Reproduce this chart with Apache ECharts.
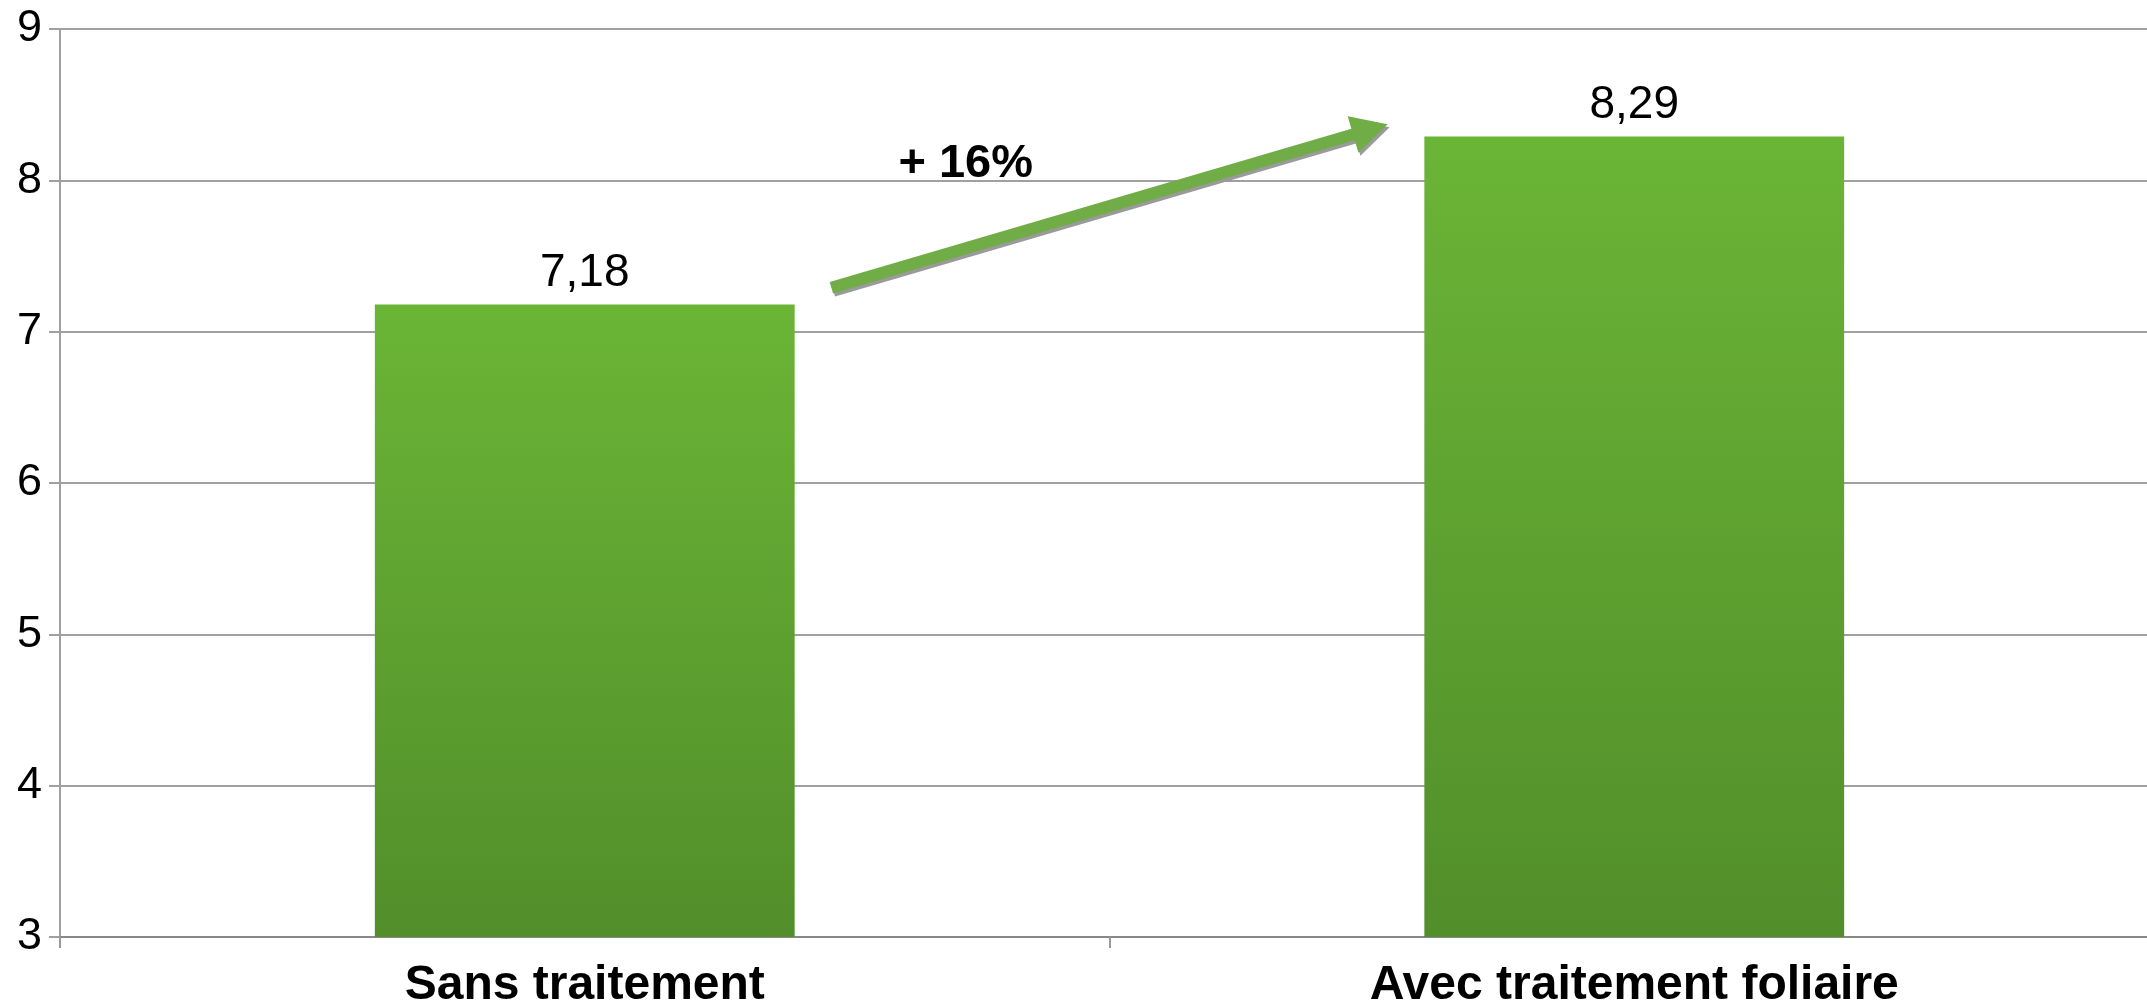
<!DOCTYPE html>
<html>
<head>
<meta charset="utf-8">
<script src="https://cdn.jsdelivr.net/npm/echarts@6/dist/echarts.min.js"></script>
<style>
html,body{margin:0;padding:0;background:#fff;}
#chart{width:2147px;height:1005px;}
</style>
</head>
<body>
<div id="chart"></div>
<script>
// ---- data ----
const categories = ['Sans traitement', 'Avec traitement foliaire'];
const values = [7.18, 8.29];
const yMin = 3, yMax = 9, yStep = 1;
const annotationText = '+ 16%';

const FONT = '"Liberation Sans", Arial, sans-serif';
const chart = echarts.init(document.getElementById('chart'), null, {renderer: 'canvas'});

const option = {
  animation: false,
  backgroundColor: '#ffffff',
  grid: {left: 60, right: -12, top: 29, bottom: 68, containLabel: false, outerBoundsMode: 'none'},
  xAxis: {
    type: 'category',
    data: categories,
    axisLine: {show: true, lineStyle: {color: '#888888', width: 2}},
    axisTick: {show: true, length: 11, inside: false, lineStyle: {color: '#999999', width: 2}},
    axisLabel: {color: '#000', fontFamily: FONT, fontWeight: 'bold', fontSize: 48, margin: 25},
    splitLine: {show: false}
  },
  yAxis: {
    type: 'value',
    min: yMin, max: yMax, interval: yStep,
    axisLine: {show: true, lineStyle: {color: '#a0a0a0', width: 2}},
    axisTick: {show: true, length: 11, lineStyle: {color: '#a0a0a0', width: 2}},
    axisLabel: {color: '#000', fontFamily: FONT, fontSize: 45, margin: 18},
    splitLine: {show: true, lineStyle: {color: '#a0a0a0', width: 2}}
  },
  series: [{
    type: 'bar',
    data: values,
    barWidth: '40%',
    itemStyle: {
      color: new echarts.graphic.LinearGradient(0, 0, 0, 1, [
        {offset: 0, color: '#6ab536'},
        {offset: 1, color: '#528e2a'}
      ])
    },
    label: {
      show: true, position: 'top', distance: 8,
      color: '#000', fontFamily: FONT, fontSize: 46,
      formatter: p => String(p.value).replace('.', ',')
    }
  }]
};
chart.setOption(option);

// ---- annotation arrow, anchored to axis positions ----
function px(catIdx) { return chart.convertToPixel({xAxisIndex: 0}, catIdx); }
function py(v) { return chart.convertToPixel({yAxisIndex: 0}, v); }
const c0 = px(0), c1 = px(1), band = c1 - c0;
const tail = [c0 + 0.235 * band, py(7.29)];
const tip = [c0 + 0.765 * band, py(8.37)];
const dx = tip[0] - tail[0], dy = tip[1] - tail[1];
const L = Math.sqrt(dx * dx + dy * dy);
const ang = Math.atan2(dy, dx);
const sw = 6, hl = 36, hw = 19;
const shape = [[0, -sw], [L - hl, -sw], [L - hl, -hw], [L, 0], [L - hl, hw], [L - hl, sw], [0, sw]];

chart.setOption({
  graphic: [
    {
      type: 'polygon',
      x: tail[0], y: tail[1],
      rotation: -ang,
      shape: {points: shape},
      style: {fill: '#70ad47', shadowColor: '#9a9a9a', shadowBlur: 0, shadowOffsetX: 2, shadowOffsetY: 3},
      z: 100
    },
    {
      type: 'text',
      x: c0 + 0.363 * band, y: py(8) - 16,
      style: {text: annotationText, font: 'bold 47px ' + FONT, fill: '#000', textAlign: 'center', textVerticalAlign: 'middle'},
      z: 101
    }
  ]
});
</script>
</body>
</html>
